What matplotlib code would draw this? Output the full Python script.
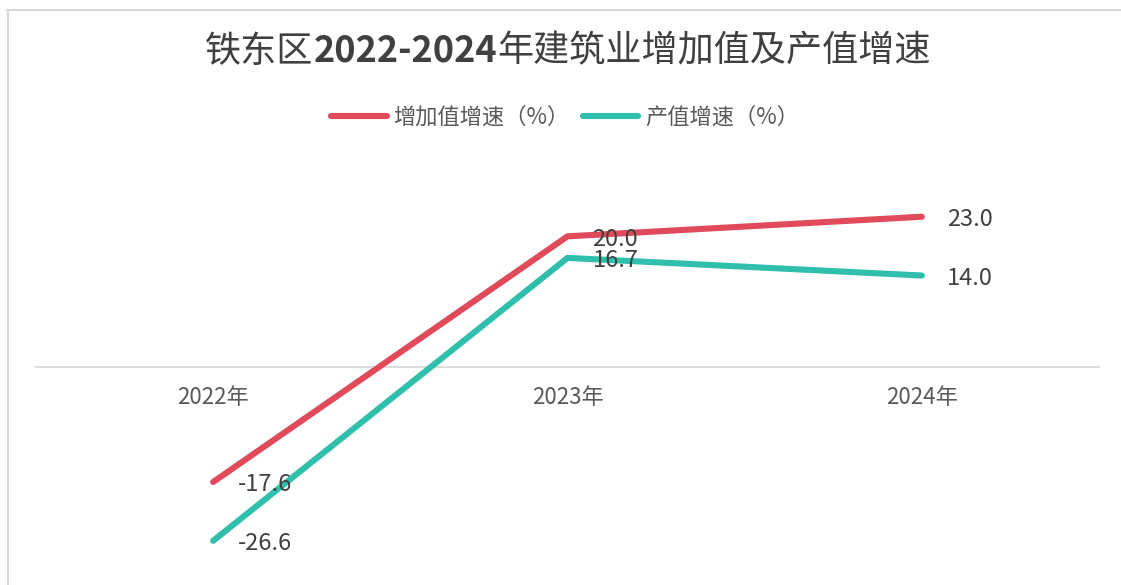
import matplotlib
matplotlib.use("Agg")
import matplotlib.pyplot as plt
from matplotlib.lines import Line2D
from matplotlib.offsetbox import TextArea, HPacker, AnnotationBbox

plt.rcParams["font.family"] = ["Noto Sans CJK SC", "DejaVu Sans"]

# data
years = ["2022年", "2023年", "2024年"]
added_value_growth = [-17.6, 20.0, 23.0]   # 增加值增速（%）
output_growth = [-26.6, 16.7, 14.0]        # 产值增速（%）
series_names = ["增加值增速（%）", "产值增速（%）"]

RED = "#E14A5B"
TEAL = "#2FBFAC"
GREY = "#595959"

W, H = 1121, 585
fig = plt.figure(figsize=(W / 100, H / 100), dpi=100)

# axes placed in pixel terms: x cats from 36..1099 px, y -30..30 -> 563..171 px
ax = fig.add_axes([36 / W, 1 - 563 / H, (1099 - 36) / W, (563 - 171) / H])
ax.set_xlim(-0.5, 2.5)
ax.set_ylim(-30, 30)

x = list(range(len(years)))
for vals, col in [(added_value_growth, RED), (output_growth, TEAL)]:
    ax.plot(x, vals, color=col, lw=4.4, solid_capstyle="round",
            solid_joinstyle="miter", zorder=3)
    for xi, v in zip(x, vals):
        ax.annotate(f"{v:.1f}", (xi, v), xytext=(18, -2), textcoords="offset points",
                    ha="left", va="center", fontsize=17, color="#404040", zorder=4)

for s in ["top", "right", "left"]:
    ax.spines[s].set_visible(False)
ax.spines["bottom"].set_position(("data", 0))
ax.spines["bottom"].set_color("#D9D9D9")
ax.spines["bottom"].set_linewidth(1.3)
ax.set_yticks([])
ax.set_xticks(x)
ax.set_xticklabels(years, fontsize=16, color=GREY)
ax.tick_params(axis="x", length=0, pad=14)

# title: CJK regular, digits bold
parts = [("铁东区", "normal"), ("2022-2024", "bold"), ("年建筑业增加值及产值增速", "normal")]
boxes = [TextArea(t, textprops=dict(fontsize=26, fontweight=w, color="#404040"))
         for t, w in parts]
pack = HPacker(children=boxes, pad=0, sep=0, align="baseline")
ab = AnnotationBbox(pack, (568 / W, 1 - 51 / H), xycoords="figure fraction",
                    frameon=False, box_alignment=(0.5, 0.5))
fig.add_artist(ab)

# legend
handles = [Line2D([], [], color=RED, lw=4.4, solid_capstyle="round"),
           Line2D([], [], color=TEAL, lw=4.4, solid_capstyle="round")]
fig.legend(handles, series_names, loc="center", bbox_to_anchor=(565 / W, 1 - 117 / H),
           ncol=2, frameon=False, fontsize=16, labelcolor=GREY,
           handlelength=2.5, handletextpad=0.3, columnspacing=0.6)

# chart frame (top and left edges visible)
fig.add_artist(Line2D([7 / W, 1], [1 - 9.5 / H, 1 - 9.5 / H], color="#D9D9D9", lw=1.5))
fig.add_artist(Line2D([7.5 / W, 7.5 / W], [0, 1 - 9.5 / H], color="#D9D9D9", lw=1.5))

fig.savefig("out.png", dpi=100)
